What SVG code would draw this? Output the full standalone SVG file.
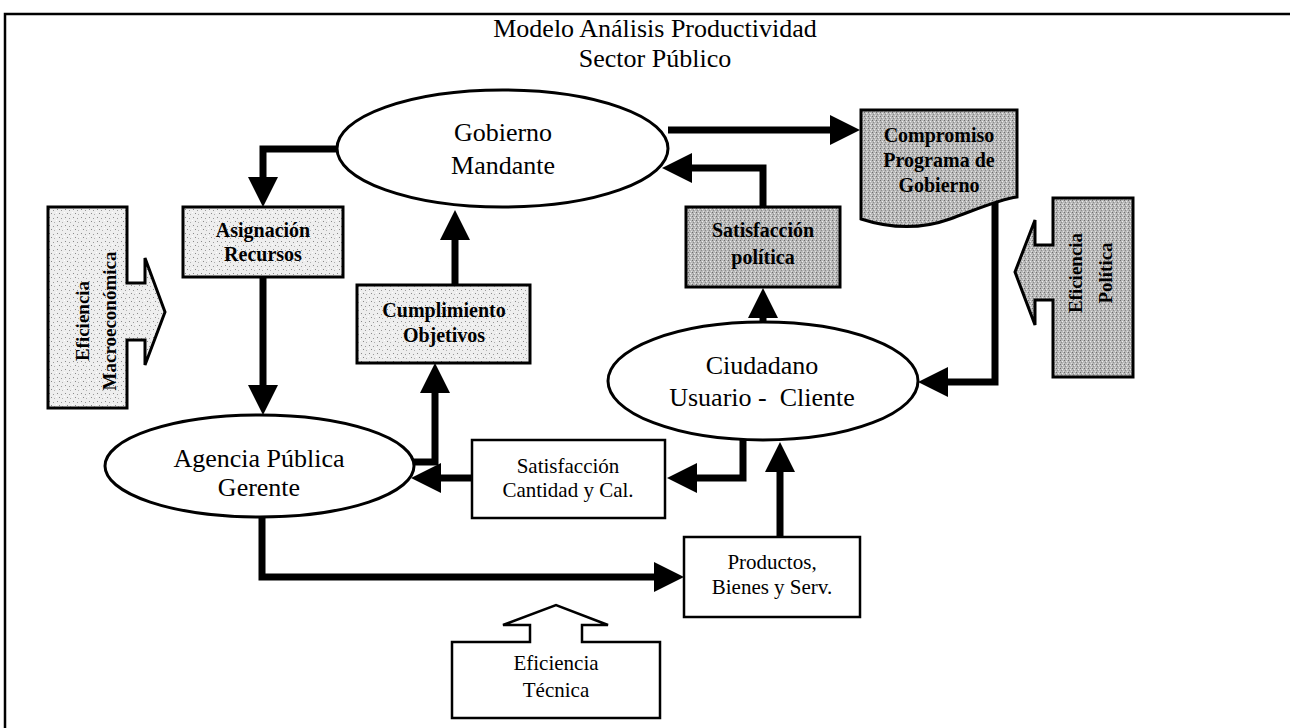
<svg xmlns="http://www.w3.org/2000/svg" width="1290" height="728" viewBox="0 0 1290 728">
<style>
  .t{font-family:"Liberation Serif","Times New Roman",serif;fill:#000;text-anchor:middle}
  .big{font-size:26px}
  .med{font-size:21px}
  .bold{font-size:20px;font-weight:bold}
  .vb{font-size:19px;font-weight:bold}
  .ell{fill:#fff;stroke:#000;stroke-width:3}
  .box{stroke:#000;stroke-width:3}
  .wbox{fill:#fff;stroke:#000;stroke-width:2.5}
  .lt{fill:url(#lightDots)}
  .dk{fill:url(#darkDots)}
  .con{fill:none;stroke:#000;stroke-width:7;stroke-linejoin:miter}
  .frame{fill:none;stroke:#000;stroke-width:2.5}
</style>
<defs>
  <pattern id="lightDots" width="8" height="8" patternUnits="userSpaceOnUse">
    <rect width="8" height="8" fill="#eeeeee"/>
    <rect x="1" y="1" width="1" height="1" fill="#8a8a8a"/>
    <rect x="5" y="2" width="1" height="1" fill="#9a9a9a"/>
    <rect x="3" y="5" width="1" height="1" fill="#8a8a8a"/>
    <rect x="6" y="6" width="1" height="1" fill="#b0b0b0"/>
    <rect x="0" y="4" width="1" height="1" fill="#fff"/>
  </pattern>
  <pattern id="darkDots" width="4" height="4" patternUnits="userSpaceOnUse">
    <rect width="4" height="4" fill="#b8b8b8"/>
    <rect x="0" y="0" width="1" height="1" fill="#6e6e6e"/>
    <rect x="2" y="1" width="1" height="1" fill="#ececec"/>
    <rect x="1" y="2" width="1" height="1" fill="#8a8a8a"/>
    <rect x="3" y="3" width="1" height="1" fill="#e0e0e0"/>
  </pattern>
  <marker id="ah" markerUnits="userSpaceOnUse" markerWidth="30" markerHeight="30" viewBox="0 0 30 30" refX="0" refY="15" orient="auto" overflow="visible">
    <path d="M0,0 L30,15 L0,30 Z" fill="#000"/>
  </marker>
</defs>

<g id="frame">
  <path class="frame" d="M5,728 V14 H1290"/>
</g>

<g id="title">
  <text class="t big" x="655" y="37">Modelo Análisis Productividad</text>
  <text class="t big" x="655" y="67">Sector Público</text>
</g>

<g id="connectors">
  <path class="con" d="M337,149 H263 V177" marker-end="url(#ah)"/>
  <path class="con" d="M263,277 V385" marker-end="url(#ah)"/>
  <path class="con" d="M668,130 H830" marker-end="url(#ah)"/>
  <path class="con" d="M763,207 V168 H692" marker-end="url(#ah)"/>
  <path class="con" d="M763,323 V318" marker-end="url(#ah)"/>
  <path class="con" d="M995,200 V382 H948" marker-end="url(#ah)"/>
  <path class="con" d="M743,440 V478 H697" marker-end="url(#ah)"/>
  <path class="con" d="M472,478 H441" marker-end="url(#ah)"/>
  <path class="con" d="M412,462 H435 V393" marker-end="url(#ah)"/>
  <path class="con" d="M455,285 V240" marker-end="url(#ah)"/>
  <path class="con" d="M262,517 V577 H654" marker-end="url(#ah)"/>
  <path class="con" d="M780,537 V472" marker-end="url(#ah)"/>
</g>

<g id="gobierno">
  <ellipse class="ell" cx="502.5" cy="148.5" rx="165.5" ry="58.5"/>
  <text class="t big" x="503" y="141">Gobierno</text>
  <text class="t big" x="503" y="174">Mandante</text>
</g>

<g id="compromiso">
  <path class="box dk" d="M861,110 H1017 V197 C1000,199 975,210 950,219 C925,228 895,230 861,219 Z"/>
  <text class="t bold" x="939" y="142">Compromiso</text>
  <text class="t bold" x="939" y="167">Programa de</text>
  <text class="t bold" x="939" y="192">Gobierno</text>
</g>

<g id="asignacion">
  <rect class="box lt" x="183" y="207" width="160" height="70"/>
  <text class="t bold" x="263" y="237">Asignación</text>
  <text class="t bold" x="263" y="261">Recursos</text>
</g>

<g id="satisfaccion-politica">
  <rect class="box dk" x="686" y="207" width="154" height="80"/>
  <text class="t bold" x="763" y="237">Satisfacción</text>
  <text class="t bold" x="763" y="264">política</text>
</g>

<g id="cumplimiento">
  <rect class="box lt" x="357" y="285" width="173" height="78"/>
  <text class="t bold" x="444" y="317">Cumplimiento</text>
  <text class="t bold" x="444" y="342">Objetivos</text>
</g>

<g id="ciudadano">
  <ellipse class="ell" cx="763" cy="381" rx="155" ry="59"/>
  <text class="t big" x="762" y="374">Ciudadano</text>
  <text class="t big" x="762" y="406" xml:space="preserve">Usuario -  Cliente</text>
</g>

<g id="agencia">
  <ellipse class="ell" cx="259.5" cy="466" rx="154.5" ry="51"/>
  <text class="t big" x="259" y="467">Agencia Pública</text>
  <text class="t big" x="259" y="496">Gerente</text>
</g>

<g id="satisfaccion-cantidad">
  <rect class="wbox" x="472" y="440" width="193" height="78"/>
  <text class="t med" x="568" y="473">Satisfacción</text>
  <text class="t med" x="568" y="497">Cantidad y Cal.</text>
</g>

<g id="productos">
  <rect class="wbox" x="684" y="537" width="176" height="80"/>
  <text class="t med" x="772" y="569">Productos,</text>
  <text class="t med" x="772" y="594">Bienes y Serv.</text>
</g>

<g id="eficiencia-macro">
  <path class="box lt" stroke-width="2.5" d="M48,207 H127 V283 H145 V258 L165,312 L145,365 V340 H127 V408 H48 Z"/>
  <text class="t vb" transform="translate(89,321) rotate(-90)">Eficiencia</text>
  <text class="t vb" transform="translate(116,321) rotate(-90)">Macroeconómica</text>
</g>

<g id="eficiencia-politica">
  <path class="box dk" stroke-width="2.5" d="M1133,198 H1053 V245 H1035 V220 L1015,272 L1035,325 V300 H1053 V377 H1133 Z"/>
  <text class="t vb" transform="translate(1082,273) rotate(-90)">Eficiencia</text>
  <text class="t vb" transform="translate(1112,273) rotate(-90)">Política</text>
</g>

<g id="eficiencia-tecnica">
  <path class="wbox" d="M452,642 H530 V625 H503 L556,605 L608,625 H582 V642 H660 V718 H452 Z"/>
  <text class="t med" x="556" y="670">Eficiencia</text>
  <text class="t med" x="556" y="697">Técnica</text>
</g>
</svg>
